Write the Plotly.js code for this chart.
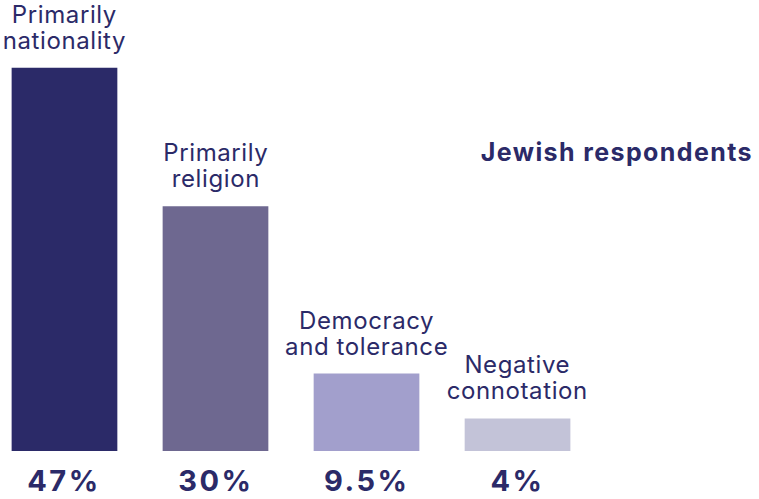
<!DOCTYPE html>
<html>
<head>
<meta charset="utf-8">
<script src="https://cdn.plot.ly/plotly-3.0.1.min.js"></script>
<style>html,body{margin:0;padding:0;background:#fff;}#chart{width:759px;height:499px;}</style>
</head>
<body>
<div id="chart"></div>
<script>
const categories = ["Primarily<br>nationality", "Primarily<br>religion", "Democracy<br>and tolerance", "Negative<br>connotation"];
const values = [47, 30, 9.5, 4];
const valueLabels = ["47%", "30%", "9.5%", "4%"];
const colors = ["#2b2a68", "#6e6890", "#a29fcc", "#c3c3d8"];
const titleText = "Jewish respondents";
const navy = "#2b2a68";
const fontFam = "Inter, 'Noto Sans', sans-serif";

const xs = categories.map((c, i) => i);

const trace = {
  type: "bar",
  x: xs,
  y: values,
  width: 0.7,
  marker: {color: colors},
  hoverinfo: "none"
};

const annotations = [];
const spacing = [];
xs.forEach((x, i) => {
  annotations.push({
    x: x, y: values[i], xref: "x", yref: "y",
    text: categories[i], showarrow: false,
    yanchor: "bottom", yshift: 6,
    font: {family: fontFam, size: 24, color: navy},
    align: "center"
  });
  spacing.push("0.6px");
  annotations.push({
    x: x, y: 0, xref: "x", yref: "y",
    text: "<b>" + valueLabels[i] + "</b>", showarrow: false,
    yanchor: "top", yshift: -11, borderpad: 0,
    font: {family: fontFam, size: 29, color: navy}
  });
  spacing.push("2.5px");
});
annotations.push({
  x: 1, y: 1 - 152 / 451, xref: "paper", yref: "paper",
  text: "<b>" + titleText + "</b>", showarrow: false,
  xanchor: "right", yanchor: "middle", xshift: -4, align: "right",
  font: {family: fontFam, size: 25, color: navy}
});
spacing.push("1.4px");

const layout = {
  width: 759, height: 499,
  margin: {l: 0, r: 0, t: 0, b: 48, pad: 0},
  paper_bgcolor: "#ffffff", plot_bgcolor: "#ffffff",
  showlegend: false,
  xaxis: {range: [-0.427, 4.599], visible: false, fixedrange: true},
  yaxis: {range: [0, 55.3], visible: false, fixedrange: true},
  annotations: annotations
};

Plotly.newPlot("chart", [trace], layout, {staticPlot: true, displayModeBar: false}).then(() => {
  const texts = document.querySelectorAll("#chart .annotation-text");
  texts.forEach((t, k) => {
    if (spacing[k]) t.style.letterSpacing = spacing[k];
    t.querySelectorAll("tspan.line").forEach((ts) => {
      const dy = ts.getAttribute("dy");
      if (dy && dy.indexOf("em") > 0) {
        const v = parseFloat(dy);
        if (v > 0) ts.setAttribute("dy", (v / 1.3 * 1.1).toFixed(3) + "em");
      }
    });
  });
});
</script>
</body>
</html>
